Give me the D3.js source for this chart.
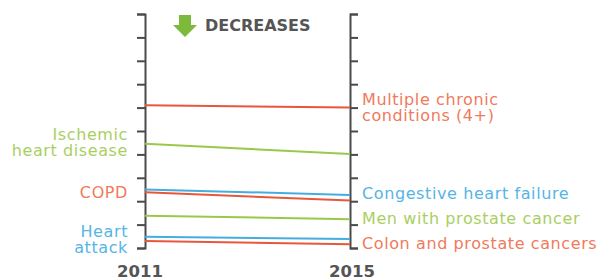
<!DOCTYPE html>
<html><head><meta charset="utf-8">
<script src="https://cdn.jsdelivr.net/npm/d3@7"></script>
<style>body{margin:0;background:#fff;}svg{display:block;}</style>
</head><body>
<svg id="c" width="600" height="280"></svg>
<script>
const years = ["2011", "2015"];
const seriesNames = [
  ["Multiple chronic", "conditions (4+)"],
  ["Ischemic", "heart disease"],
  ["Congestive heart failure"],
  ["COPD"],
  ["Men with prostate cancer"],
  ["Heart", "attack"],
  ["Colon and prostate cancers"]
];
const values2011 = [6.1, 4.45, 2.5, 2.38, 1.38, 0.48, 0.3];
const values2015 = [6.0, 4.02, 2.27, 2.03, 1.23, 0.38, 0.16];
const labelSide = ["right", "left", "right", "left", "right", "left", "right"];
const seriesColor = ["red", "green", "blue", "red", "green", "blue", "red"];
const tickValues = d3.range(0, 11);
const title = "DECREASES";

const palette = {red: "#e8573c", green: "#9cc84a", blue: "#45ade0"};
const labelPalette = {red: "#ef7a5c", green: "#a9cf62", blue: "#55b5e4"};
const labelDy = [0, -1, -1, 0, -1, 3, -1];
const yearDx = [-5, 2];

const svg = d3.select("#c");
const x = d3.scalePoint().domain(years).range([145, 350]);
const y = d3.scaleLinear().domain([0, 10]).range([248, 14]);

const axisColor = "#4a4a4a";
const gL = svg.append("g").attr("transform", `translate(${x(years[0])},0)`)
  .call(d3.axisLeft(y).tickValues(tickValues).tickSize(8).tickFormat(""));
const gR = svg.append("g").attr("transform", `translate(${x(years[1])},0)`)
  .call(d3.axisRight(y).tickValues(tickValues).tickSize(8).tickFormat(""));
[gL, gR].forEach(g => {
  g.select(".domain").attr("stroke", axisColor).attr("stroke-width", 2);
  g.selectAll(".tick line").attr("stroke", axisColor).attr("stroke-width", 2);
});

const data = seriesNames.map((n, i) => ({
  name: n, a: values2011[i], b: values2015[i], side: labelSide[i], c: seriesColor[i], dy: labelDy[i]
}));

svg.append("g").selectAll("line.s").data(data).join("line")
  .attr("x1", x(years[0])).attr("x2", x(years[1]))
  .attr("y1", d => y(d.a)).attr("y2", d => y(d.b))
  .attr("stroke", d => palette[d.c]).attr("stroke-width", 2);

const font = "'DejaVu Sans', sans-serif";
const lh = 16;
const lab = svg.append("g").attr("font-family", font).attr("font-size", 16)
  .attr("letter-spacing", 0.6);
data.forEach(d => {
  const left = d.side === "left";
  const yy = y(left ? d.a : d.b) + d.dy;
  const tx = left ? x(years[0]) - 17 : x(years[1]) + 12;
  const t = lab.append("text")
    .attr("x", tx)
    .attr("text-anchor", left ? "end" : "start")
    .attr("fill", labelPalette[d.c]);
  const n = d.name.length;
  d.name.forEach((line, k) => {
    t.append("tspan").attr("x", tx)
      .attr("y", yy + (k - (n - 1) / 2) * lh).attr("dy", "0.35em").text(line);
  });
});

svg.append("g").selectAll("text.yr").data(years).join("text")
  .attr("x", (d, i) => x(d) + yearDx[i]).attr("y", 277)
  .attr("text-anchor", "middle").attr("font-family", font)
  .attr("font-weight", "bold").attr("font-size", 16.5).attr("fill", "#555")
  .text(d => d);

// title with arrow
const ax = 185;
svg.append("path")
  .attr("d", `M${ax-6},15 L${ax+6},15 L${ax+6},25 L${ax+12},25 L${ax},37 L${ax-12},25 L${ax-6},25 Z`)
  .attr("fill", "#7dba3c");
svg.append("text").attr("x", 205).attr("y", 25).attr("dy", "0.35em")
  .attr("font-family", font).attr("font-weight", "bold").attr("font-size", 16)
  .attr("fill", "#555").text(title);
</script>
</body></html>
